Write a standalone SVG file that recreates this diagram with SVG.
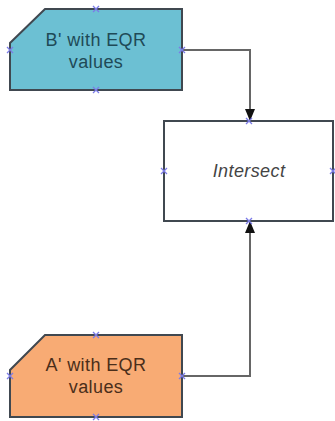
<svg xmlns="http://www.w3.org/2000/svg" width="335" height="421" viewBox="0 0 335 421">
<style>
.shape{stroke:#404850;stroke-width:2}
.lbl{font-family:"Liberation Sans",Arial,sans-serif;font-size:18px;letter-spacing:0.4px;text-anchor:middle}
.cp{stroke:#7b7be8;stroke-width:1.3;fill:none}
.conn{stroke:#666;stroke-width:2;fill:none}
</style>
<defs>
<marker id="ah" viewBox="0 0 12 12" refX="12" refY="6" markerWidth="12" markerHeight="12" orient="auto" markerUnits="userSpaceOnUse">
<path d="M0,1 L12,6 L0,11 z" fill="#111"/>
</marker>
<g id="x"><path class="cp" d="M-3,-3 L3,3 M-3,3 L3,-3"/></g>
</defs>
<g id="connectors">
<path class="conn" d="M182,50 H250 V121" marker-end="url(#ah)"/>
<path class="conn" d="M182,376 H250 V221" marker-end="url(#ah)"/>
</g>
<g id="nodeB">
<path class="shape" fill="#6cc0d3" d="M45,9 H182 V90 H10 V43 Z"/>
<text class="lbl" x="96" y="46" fill="#1f4a57">B' with EQR</text>
<text class="lbl" x="96" y="68" fill="#1f4a57">values</text>
<use href="#x" x="96" y="9"/><use href="#x" x="10" y="50"/><use href="#x" x="182" y="50"/><use href="#x" x="96" y="90"/>
</g>
<g id="intersect">
<rect class="shape" x="164" y="121" width="169" height="100" fill="#fff" stroke="#555"/>
<text class="lbl" x="249" y="177" fill="#444" font-style="italic">Intersect</text>
<use href="#x" x="249" y="121"/><use href="#x" x="164" y="171"/><use href="#x" x="333" y="171"/><use href="#x" x="249" y="221"/>
</g>
<g id="nodeA">
<path class="shape" fill="#f8ab74" d="M45,335 H182 V417 H10 V370 Z"/>
<text class="lbl" x="96" y="371" fill="#4a2e1a">A' with EQR</text>
<text class="lbl" x="96" y="393" fill="#4a2e1a">values</text>
<use href="#x" x="96" y="335"/><use href="#x" x="10" y="376"/><use href="#x" x="182" y="376"/><use href="#x" x="96" y="417"/>
</g>
</svg>
